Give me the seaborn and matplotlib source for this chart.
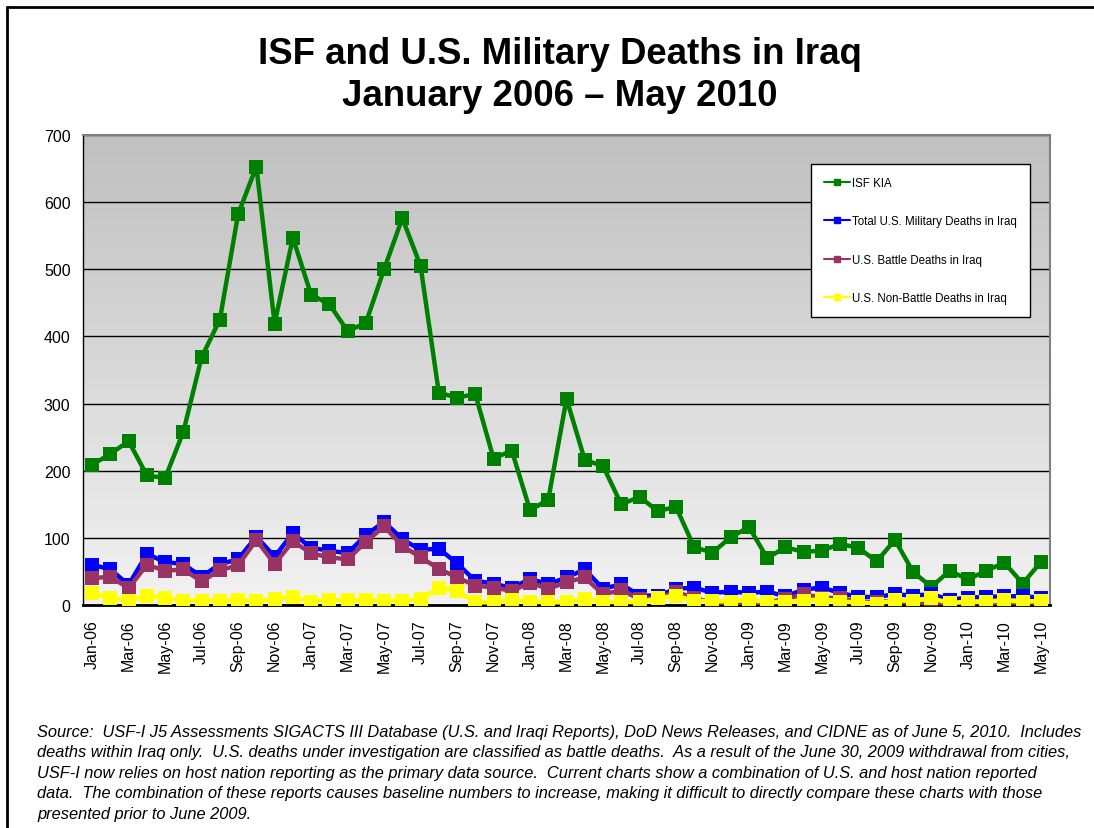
import numpy as np
import pandas as pd
import matplotlib
matplotlib.use("Agg")
import matplotlib.pyplot as plt
import seaborn as sns

# --- DATA ---
months = pd.date_range("2006-01-01", "2010-05-01", freq="MS").strftime("%b-%y").tolist()

isf_kia = [209, 225, 244, 193, 189, 258, 369, 425, 582, 653, 419, 547,
           462, 448, 408, 420, 500, 576, 505, 316, 309, 314, 218, 230,
           141, 157, 307, 216, 207, 150, 161, 140, 146, 86, 78, 101,
           116, 70, 86, 79, 81, 91, 85, 65, 97, 49, 27, 51,
           38, 51, 63, 32, 64]

us_total = [60, 53, 30, 76, 64, 61, 42, 61, 68, 102, 72, 107,
            85, 81, 77, 104, 124, 98, 82, 84, 62, 36, 32, 25,
            39, 31, 41, 53, 24, 31, 14, 14, 24, 26, 18, 20,
            18, 20, 13, 23, 26, 18, 12, 12, 16, 14, 16, 8,
            11, 12, 13, 13, 11]

us_battle = [40, 42, 25, 60, 51, 53, 35, 52, 59, 97, 61, 95,
             77, 71, 68, 94, 117, 88, 71, 54, 41, 29, 26, 21,
             33, 24, 34, 41, 16, 22, 9, 11, 19, 11, 3, 4,
             2, 4, 9, 16, 11, 10, 5, 4, 7, 2, 2, 1,
             3, 2, 3, 4, 2]

us_nonbattle = [18, 11, 6, 14, 11, 6, 6, 6, 7, 6, 9, 12,
                5, 8, 7, 7, 6, 6, 9, 26, 21, 4, 4, 7,
                5, 4, 4, 9, 4, 5, 4, 10, 14, 6, 6, 5,
                8, 4, 5, 6, 9, 5, 4, 2, 7, 6, 10, 3,
                5, 5, 7, 5, 6]

series_names = ["ISF KIA", "Total U.S. Military Deaths in Iraq",
                "U.S. Battle Deaths in Iraq", "U.S. Non-Battle Deaths in Iraq"]
series_colors = ["#008000", "#0000FF", "#993366", "#FFFF00"]

title_text = "ISF and U.S. Military Deaths in Iraq\nJanuary 2006 \u2013 May 2010"
source_text = (
    "Source:  USF-I J5 Assessments SIGACTS III Database (U.S. and Iraqi Reports), DoD News Releases, and CIDNE as of June 5, 2010.  Includes\n"
    "deaths within Iraq only.  U.S. deaths under investigation are classified as battle deaths.  As a result of the June 30, 2009 withdrawal from cities,\n"
    "USF-I now relies on host nation reporting as the primary data source.  Current charts show a combination of U.S. and host nation reported\n"
    "data.  The combination of these reports causes baseline numbers to increase, making it difficult to directly compare these charts with those\n"
    "presented prior to June 2009."
)

# long-form table for seaborn
idx = np.arange(len(months))
df = pd.concat([
    pd.DataFrame({"x": idx, "deaths": vals, "series": name})
    for name, vals in zip(series_names, [isf_kia, us_total, us_battle, us_nonbattle])
], ignore_index=True)

sns.set_style("white")
plt.rcParams["font.family"] = ["Liberation Sans", "DejaVu Sans"]
plt.rcParams["text.color"] = "black"
plt.rcParams["xtick.color"] = "black"
plt.rcParams["ytick.color"] = "black"

fig = plt.figure(figsize=(10.94, 8.29), dpi=100)
ax = fig.add_axes([0.0759, 0.269, 0.8839, 0.567])

# gray gradient plot background, darker at top
grad = np.linspace(0, 1, 256).reshape(-1, 1)
ax.imshow(grad, cmap=matplotlib.colors.LinearSegmentedColormap.from_list("bg", ["#c0c0c0", "#f2f2f2"]),
          extent=[0, 1, 0, 1], transform=ax.transAxes, aspect="auto", zorder=0)

sns.lineplot(data=df, x="x", y="deaths", hue="series", hue_order=series_names,
             palette=series_colors, marker="s", markersize=10, markeredgewidth=0,
             linewidth=3.2, ax=ax, zorder=3, legend=False)

ax.set_xlim(-0.5, len(months) - 0.5)
ax.set_ylim(0, 700)
ax.set_yticks(range(0, 701, 100))
ax.grid(axis="y", color="black", linewidth=1, zorder=1)
ax.set_axisbelow(True)

# labels every other month, tick marks between categories
ax.set_xticks(idx[::2])
ax.set_xticklabels(months[::2], rotation=90, fontsize=11.5)
ax.set_xticks(np.arange(-0.5, len(months), 2), minor=True)
ax.tick_params(axis="x", which="major", length=0, pad=10)
ax.tick_params(axis="x", which="minor", length=4, width=1, color="black", direction="out")
ax.tick_params(axis="y", length=5, width=1, color="black", direction="out", labelsize=11.5, pad=4)
ax.set_xlabel("")
ax.set_ylabel("")

ax.spines["bottom"].set_color("black")
ax.spines["bottom"].set_linewidth(2)
ax.spines["left"].set_color("black")
ax.spines["left"].set_linewidth(1)
for s in ["top", "right"]:
    ax.spines[s].set_color("#808080")
    ax.spines[s].set_linewidth(1.5)

handles = [plt.Line2D([], [], color=c, marker="s", markersize=5, linewidth=1.5) for c in series_colors]
leg = ax.legend(handles, series_names, loc="upper left", bbox_to_anchor=(0.753, 0.938),
                fontsize=8.3, frameon=True, fancybox=False, edgecolor="black",
                labelspacing=2.3, handlelength=2.3, handletextpad=0.15,
                borderpad=1.1, borderaxespad=0, framealpha=1)
leg.get_frame().set_linewidth(1)
leg.set_zorder(5)

fig.text(0.512, 0.909, title_text, ha="center", va="center", fontsize=26.4,
         fontweight="bold", linespacing=1.27)

fig.text(0.034, 0.1255, source_text, ha="left", va="top", fontsize=11.8,
         style="italic", linespacing=1.45)

# slide frame: top and left edges only
fig.add_artist(plt.Line2D([0.0065, 1.0], [0.9905, 0.9905], transform=fig.transFigure,
                          color="black", linewidth=2))
fig.add_artist(plt.Line2D([0.0065, 0.0065], [0.0, 0.9905], transform=fig.transFigure,
                          color="black", linewidth=2))

fig.savefig("out.png", dpi=100)
